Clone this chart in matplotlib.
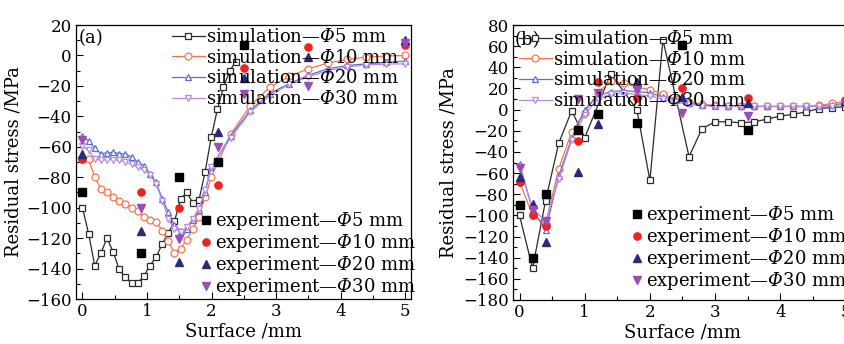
import matplotlib
matplotlib.use('Agg')
import matplotlib.pyplot as plt
from matplotlib.ticker import MultipleLocator

plt.rcParams['font.family'] = ['DejaVu Serif']
plt.rcParams['mathtext.fontset'] = 'custom'
plt.rcParams['mathtext.rm'] = 'DejaVu Serif:italic'
plt.rcParams['mathtext.it'] = 'DejaVu Serif:italic'
plt.rcParams['font.size'] = 12

# ---- panel (a) ----
xa_fine = [0, 0.095, 0.19, 0.285, 0.38, 0.475, 0.57, 0.665, 0.76, 0.855, 0.95,
           1.045, 1.14, 1.235, 1.33, 1.425, 1.52, 1.615, 1.71, 1.805, 1.9, 1.995]
xa_sim5 = xa_fine + [2.09, 2.185, 2.28, 2.375]
xa_coarse = [2.3, 2.6, 2.9, 3.2, 3.5, 3.8, 4.1, 4.4, 4.7, 5.0]

a_sim5 = [-100, -117, -138, -130, -120, -129, -140.6, -145.6, -149.6, -149.6, -145,
          -138, -132.5, -124, -116.5, -109, -94.6, -89.8, -97, -95, -76.6, -53.7,
          -35.5, -20.8, -10.3, -4]
a_sim10 = [-68, -68.3, -80, -87.6, -89.8, -93, -95.7, -97.5, -100, -102.5, -106,
           -108.4, -109.5, -115, -122, -130, -127, -121, -114, -106, -93, -80,
           -51.5, -33, -21, -13.8, -8.8, -5, -2.6, -1.1, -0.4, 0]
a_sim20 = [-52.6, -56.3, -60.6, -64.6, -64, -63.5, -64.6, -64.6, -66.8, -70, -72.3,
           -77.7, -83.2, -94, -103, -111.7, -115, -114, -108.4, -101.8, -89.8, -73.4,
           -52.6, -36, -25, -18.6, -13, -8.8, -6.6, -5.5, -4.6, -3.7]
a_sim30 = [-59.8, -62.4, -67.9, -69, -68.5, -68.5, -69, -70, -71.6, -73.4, -75,
           -78.4, -84.3, -95.3, -107.3, -113.9, -116, -112.8, -107.3, -100.7, -88.7, -73,
           -54, -37, -26.5, -19, -14, -10, -7.5, -6.2, -5.7, -5.5]

xa_exp5 = [0, 0.9, 1.5, 2.1, 2.5]
a_exp5 = [-90, -130, -80, -70, 7]
xa_exp = [0, 0.9, 1.5, 2.1, 2.5, 3.5, 5.0]
a_exp10 = [-68, -90, -100, -85, -8, 5.5, 7]
a_exp20 = [-65, -115, -136, -50, -15, -1, 10]
a_exp30 = [-55.5, -100, -120.5, -60, -25.5, -20, 8]

# ---- panel (b) ----
xb = [0, 0.2, 0.4, 0.6, 0.8, 1.0, 1.2, 1.4, 1.6, 1.8, 2.0, 2.2, 2.4, 2.6, 2.8,
      3.0, 3.2, 3.4, 3.6, 3.8, 4.0, 4.2, 4.4, 4.6, 4.8, 5.0]
xb_sim5 = [0, 0.2, 0.4, 0.6, 0.8, 1.0, 1.4, 1.8, 2.0, 2.2, 2.6, 2.8,
           3.0, 3.2, 3.4, 3.6, 3.8, 4.0, 4.2, 4.4, 4.6, 4.8, 5.0]
b_sim5 = [-100, -150, -86, -32, -1, -26.5, 34, 0, -67, 66, -44.5, -18,
          -11.5, -11.5, -12.5, -11.5, -9, -6, -4.5, -2, 1, 2, 2.7]
b_sim10 = [-68, -100, -108, -56, -21, -3, 16, 27, 25, 21, 19, 14.5, 10, 7, 5,
           4, 3.5, 3, 3, 3, 3, 3, 3, 4, 6, 8]
b_sim20 = [-51, -95, -114, -63, -27, 0, 13, 17, 18, 17, 16, 12, 9, 6, 4.5,
           3.5, 3, 3, 3, 3, 3, 3, 3, 3, 4.5, 6]
b_sim30 = [-55, -93, -106, -66, -29, -5, 10, 15, 16, 14, 13, 10, 7, 5, 3.5,
           3, 3, 3, 3, 3, 3, 3, 3, 3, 3.5, 5]

xb_exp5 = [0, 0.2, 0.4, 0.9, 1.2, 1.8, 2.5, 3.5]
b_exp5 = [-90, -140, -80, -19, -4.5, -13, 61, -19.5]
xb_exp = [0, 0.2, 0.4, 0.9, 1.2, 1.8, 2.5, 3.5, 5.0]
b_exp10 = [-68.5, -100, -110, -29.5, 25.8, 10.7, 20, 10.7, 9]
b_exp20 = [-63.5, -89.5, -125, -59.3, -14, 26.4, 12, 6, 8]
b_exp30 = [-55.5, -95, -105, 10.5, 15.4, 18.5, -3, -6.5, 6]

labels = ['5', '10', '20', '30']
sim_colors = ['#2a2a2a', '#f4764f', '#5a6fd6', '#b88ae0']
sim_markers = ['s', 'o', '^', 'v']
exp_colors = ['#000000', '#f02020', '#2a2a78', '#9a4db8']
exp_markers = ['s', 'o', '^', 'v']

FS = 13
TS = 12
W, H = 844, 344
fig = plt.figure(figsize=(W / 100, H / 100), dpi=100)
ax_a = fig.add_axes([76 / W, 1 - 299 / H, 335 / W, 274 / H])
ax_b = fig.add_axes([513 / W, 1 - 300 / H, 339 / W, 275 / H])


def draw(ax, sims, exps, leg_sim, leg_exp):
    sim_handles = []
    for (x, y), c, m, lab in zip(sims, sim_colors, sim_markers, labels):
        h, = ax.plot(x, y, color=c, marker=m, ms=5, mfc='white', mec=c,
                     lw=0.9, mew=0.9, zorder=2,
                     label='simulation\u2014$\\Phi$' + lab + ' mm')
        sim_handles.append(h)
    exp_handles = []
    for (x, y), c, m, lab in zip(exps, exp_colors, exp_markers, labels):
        h, = ax.plot(x, y, ls='none', color=c, marker=m, ms=5.2, zorder=3,
                     label='experiment\u2014$\\Phi$' + lab + ' mm')
        exp_handles.append(h)
    l1 = ax.legend(handles=sim_handles, loc='upper left', bbox_to_anchor=leg_sim,
                   bbox_transform=fig.transFigure, frameon=False, borderpad=0,
                   borderaxespad=0, handlelength=1.8, handletextpad=0.1,
                   labelspacing=0.15, fontsize=FS)
    ax.add_artist(l1)
    ax.legend(handles=exp_handles, loc='upper left', bbox_to_anchor=leg_exp,
              bbox_transform=fig.transFigure, frameon=False, borderpad=0,
              borderaxespad=0, handlelength=0.5, handletextpad=0.3,
              labelspacing=0.0, fontsize=FS)
    ax.xaxis.set_major_locator(MultipleLocator(1))
    ax.xaxis.set_minor_locator(MultipleLocator(0.5))
    ax.yaxis.set_major_locator(MultipleLocator(20))
    ax.yaxis.set_minor_locator(MultipleLocator(10))
    ax.tick_params(which='both', direction='in', top=False, right=False,
                   labelsize=TS)
    ax.tick_params(which='major', length=5, width=0.8, pad=3)
    ax.tick_params(which='minor', length=3, width=0.8)
    for s in ax.spines.values():
        s.set_linewidth(0.9)
    ax.set_xlabel('Surface /mm', fontsize=FS, labelpad=2)
    ax.set_ylabel('Residual stress /MPa', fontsize=FS)


draw(ax_a,
     [(xa_sim5, a_sim5), (xa_fine + xa_coarse, a_sim10),
      (xa_fine + xa_coarse, a_sim20), (xa_fine + xa_coarse, a_sim30)],
     [(xa_exp5, a_exp5), (xa_exp, a_exp10), (xa_exp, a_exp20), (xa_exp, a_exp30)],
     (172 / W, 1 - 28 / H), (201 / W, 1 - 210 / H))
ax_a.set_xlim(-0.1, 5.09)
ax_a.set_ylim(-160, 20)
ax_a.yaxis.set_label_coords(-0.16, 0.5)
ax_a.text(79 / W, 1 - 38 / H, '(a)', transform=fig.transFigure, ha='left',
          va='center', fontsize=FS)

draw(ax_b,
     [(xb_sim5, b_sim5), (xb, b_sim10), (xb, b_sim20), (xb, b_sim30)],
     [(xb_exp5, b_exp5), (xb_exp, b_exp10), (xb_exp, b_exp20), (xb_exp, b_exp30)],
     (519 / W, 1 - 30 / H), (632 / W, 1 - 204 / H))
ax_b.set_xlim(-0.1, 5.1)
ax_b.set_ylim(-180, 80)
ax_b.yaxis.set_label_coords(-0.165, 0.5)
ax_b.text(515 / W, 1 - 40 / H, '(b)', transform=fig.transFigure, ha='left',
          va='center', fontsize=FS)

fig.savefig('out.png', dpi=100)
